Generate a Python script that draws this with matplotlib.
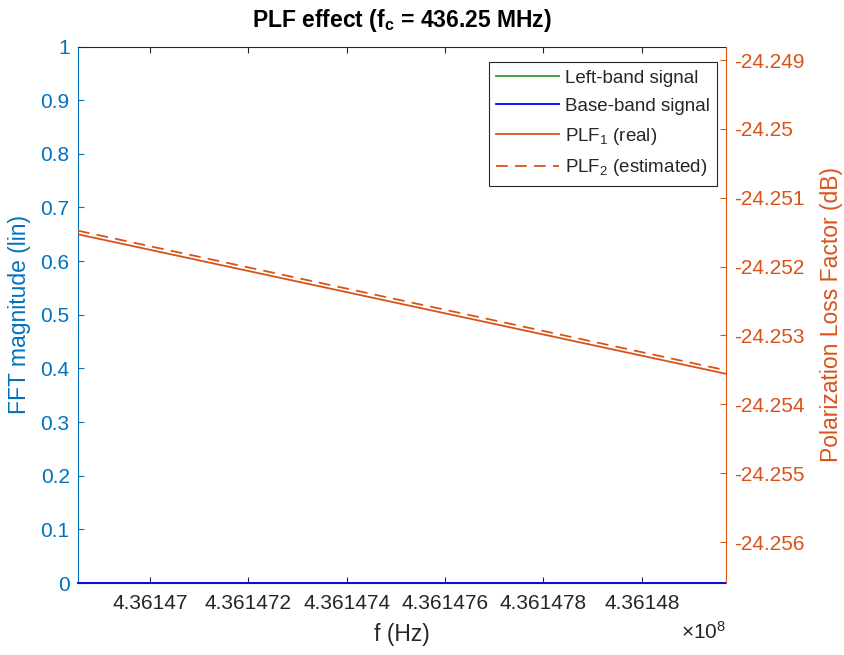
import matplotlib
matplotlib.use("Agg")
import matplotlib.pyplot as plt
from matplotlib.ticker import FixedLocator, FuncFormatter

plt.rcParams['font.family'] = ['Liberation Sans', 'DejaVu Sans']
plt.rcParams['mathtext.fontset'] = 'custom'
plt.rcParams['mathtext.rm'] = 'Liberation Sans'
plt.rcParams['mathtext.it'] = 'Liberation Sans:italic'
plt.rcParams['mathtext.bf'] = 'Liberation Sans:bold'
plt.rcParams['mathtext.default'] = 'regular'
plt.rcParams['axes.unicode_minus'] = False

# Frequency span (Hz) and signal magnitudes on the left axis
freq = [436146854.0, 436148171.0]
left_band = [0.0, 0.0]
base_band = [0.0, 0.0]

# Polarization loss factor (dB) on the right axis
plf_real = [-24.251531, -24.253557]
plf_est = [-24.251479, -24.253506]

x_ticks = [436147000, 436147200, 436147400, 436147600, 436147800, 436148000]
left_ticks = [0, 0.1, 0.2, 0.3, 0.4, 0.5, 0.6, 0.7, 0.8, 0.9, 1.0]
right_ticks = [-24.256, -24.255, -24.254, -24.253, -24.252, -24.251, -24.250, -24.249]
right_lim = (-24.256595, -24.248804)

BLUE_AX = '#0072BD'
ORANGE = '#D95319'
GRAY = '#262626'
FS = 15
FS_LABEL = 16.5

fig = plt.figure(figsize=(8.45, 6.55), dpi=100)
ax = fig.add_axes([0.0923, 0.1099, 0.7669, 0.8191])
ax2 = ax.twinx()

l1, = ax.plot(freq, left_band, color='#2E9E2E', lw=1.3, clip_on=False, zorder=3,
              label='Left-band signal')
l2, = ax.plot(freq, base_band, color='#0000FF', lw=1.3, clip_on=False, zorder=3,
              label='Base-band signal')
l3, = ax2.plot(freq, plf_real, color=ORANGE, lw=1.3, label='PLF$_1$ (real)')
l4, = ax2.plot(freq, plf_est, color=ORANGE, lw=1.3, ls=(0, (6.5, 4)),
               label='PLF$_2$ (estimated)')

ax.set_xlim(freq[0], freq[-1])
ax.set_ylim(0, 1)
ax2.set_ylim(*right_lim)

ax.xaxis.set_major_locator(FixedLocator(x_ticks))
ax.xaxis.set_major_formatter(FuncFormatter(lambda v, p: f"{v / 1e8:.6f}".rstrip('0')))
ax.yaxis.set_major_locator(FixedLocator(left_ticks))
ax.yaxis.set_major_formatter(FuncFormatter(lambda v, p: f"{v:g}"))
ax2.yaxis.set_major_locator(FixedLocator(right_ticks))
ax2.yaxis.set_major_formatter(FuncFormatter(lambda v, p: f"{v:.3f}".rstrip('0').rstrip('.')))

# spines
for s in ['top', 'bottom']:
    ax.spines[s].set_color(GRAY)
    ax.spines[s].set_linewidth(0.8)
ax.spines['left'].set_color(BLUE_AX)
ax.spines['left'].set_linewidth(0.8)
ax.spines['right'].set_visible(False)
for s in ['top', 'bottom', 'left']:
    ax2.spines[s].set_visible(False)
ax2.spines['right'].set_color(ORANGE)
ax2.spines['right'].set_linewidth(0.8)

ax.tick_params(axis='x', direction='in', top=True, bottom=True, length=4.5,
               width=0.8, color=GRAY, labelcolor=GRAY, labelsize=FS, pad=8)
ax.tick_params(axis='y', direction='in', left=True, right=False, length=4.5,
               width=0.8, color=BLUE_AX, labelcolor=BLUE_AX, labelsize=FS, pad=6)
ax2.tick_params(axis='y', direction='in', right=True, left=False, length=4.5,
                width=0.8, color=ORANGE, labelcolor=ORANGE, labelsize=FS, pad=6)
ax2.tick_params(axis='x', which='both', top=False, bottom=False)

ax.set_xlabel('f (Hz)', fontsize=FS_LABEL, color=GRAY, labelpad=7)
ax.set_ylabel('FFT magnitude (lin)', fontsize=FS_LABEL, color=BLUE_AX, labelpad=7)
ax2.set_ylabel('Polarization Loss Factor (dB)', fontsize=FS_LABEL, color=ORANGE,
               labelpad=11)
ax.set_title(r'PLF effect (f$_{\mathbf{c}}$ = 436.25 MHz)', fontsize=FS_LABEL,
             fontweight='bold', color='black', pad=14)

ax.text(1.0, -0.07, r'$\times 10^{8}$', transform=ax.transAxes, ha='right',
        va='top', fontsize=FS, color=GRAY)

leg = ax2.legend(handles=[l1, l2, l3, l4], loc='upper right',
                 bbox_to_anchor=(1 - 9 / 648, 1 - 15.5 / 536.5), borderaxespad=0,
                 fontsize=13.5, frameon=True, fancybox=False, framealpha=1,
                 edgecolor=GRAY, handlelength=3.35, handletextpad=0.3,
                 labelspacing=0.58, borderpad=0.4)
leg.get_frame().set_linewidth(0.8)
for t in leg.get_texts():
    t.set_color(GRAY)

fig.savefig('out.png', dpi=100)
